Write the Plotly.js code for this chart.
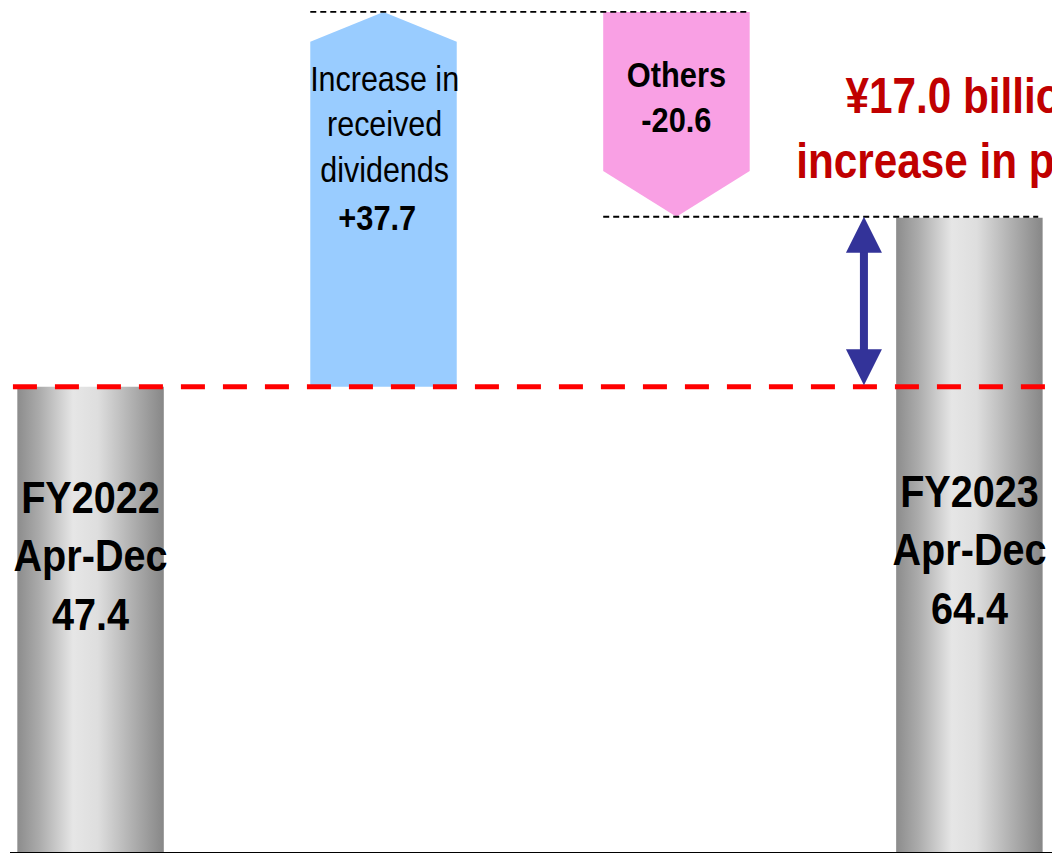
<!DOCTYPE html>
<html>
<head>
<meta charset="utf-8">
<script src="https://cdn.plot.ly/plotly-3.0.1.min.js"></script>
<style>
html,body{margin:0;padding:0;overflow:hidden;background:#fff;}
#chart{width:1052px;height:853px;}
</style>
</head>
<body>
<div id="chart"></div>
<script>
// ---- data ----
const categories = ['FY2022 Apr-Dec', 'Increase in received dividends', 'Others', 'FY2023 Apr-Dec'];
const values = [47.4, 37.7, -20.6, 64.4];
const barLabels = ['FY2022<br>Apr-Dec<br>47.4', 'Increase in<br>received<br>dividends', 'Others<br>-20.6', 'FY2023<br>Apr-Dec<br>64.4'];
const deltaLabel = '+37.7';
const increaseText = '¥17.0 billion<br>increase in profit';

// ---- derived running totals ----
const start = values[0];
const afterDiv = start + values[1];          // 85.1
const afterOthers = afterDiv + values[2];   // 64.5
const endVal = values[3];

const FONT = "'Liberation Sans',Arial,sans-serif";
const hw = 0.25;        // half bar width (category units)
const headUp = 3.0;     // arrow head heights (value units)
const headDown = 4.6;

const grayScale = [[0,'#8c8c8c'],[0.15,'#ababab'],[0.38,'#e6e6e6'],[0.55,'#dedede'],[0.8,'#adadad'],[1,'#878787']];

function grayBar(i, v) {
  return {
    type: 'scatter', mode: 'lines',
    x: [i-hw, i-hw, i+hw, i+hw, i-hw],
    y: [0, v, v, 0, 0],
    fill: 'toself', line: {width: 0}, hoverinfo: 'skip', showlegend: false,
    fillgradient: {type: 'horizontal', start: i-hw, stop: i+hw, colorscale: grayScale}
  };
}

const traces = [
  grayBar(0, start),
  {
    type: 'scatter', mode: 'lines',
    x: [1-hw, 1-hw, 1, 1+hw, 1+hw, 1-hw],
    y: [start, afterDiv-headUp, afterDiv, afterDiv-headUp, start, start],
    fill: 'toself', fillcolor: '#99CCFF', line: {width: 0}, hoverinfo: 'skip', showlegend: false
  },
  {
    type: 'scatter', mode: 'lines',
    x: [2-hw, 2-hw, 2, 2+hw, 2+hw, 2-hw],
    y: [afterDiv, afterOthers+headDown, afterOthers, afterOthers+headDown, afterDiv, afterDiv],
    fill: 'toself', fillcolor: '#F9A0E4', line: {width: 0}, hoverinfo: 'skip', showlegend: false
  },
  grayBar(3, endVal)
];

const xArrow = 3 - 0.36;

const shapes = [
  {type:'line', xref:'x', yref:'y', x0:1-hw, x1:2+hw, y0:afterDiv, y1:afterDiv, line:{color:'#000', width:1.8, dash:'6px,4px'}},
  {type:'line', xref:'x', yref:'y', x0:2-hw, x1:3+hw-0.015, y0:afterOthers, y1:afterOthers, line:{color:'#000', width:1.8, dash:'6px,4px'}},
  {type:'line', xref:'x', yref:'y', x0:0-hw-0.015, x1:3.3, y0:start, y1:start, line:{color:'#FF0000', width:5, dash:'24px,18px'}}
];

// horizontal condensing per annotation (Arial Narrow look)
const squeeze = [0.88, 0.88, 0.87, 0.88, 0.88, 0.845, 1];

const annotations = [
  {x:0, y:30.4, xref:'x', yref:'y', text:'<b>'+barLabels[0]+'</b>', showarrow:false, font:{family:FONT, size:45, color:'#000'}},
  {x:3, y:31.0, xref:'x', yref:'y', text:'<b>'+barLabels[3]+'</b>', showarrow:false, font:{family:FONT, size:45, color:'#000'}},
  {x:1.005, y:73.8, xref:'x', yref:'y', text:barLabels[1], showarrow:false, font:{family:FONT, size:35, color:'#000'}},
  {x:0.98, y:64.4, xref:'x', yref:'y', text:'<b>'+deltaLabel+'</b>', showarrow:false, font:{family:FONT, size:35, color:'#000'}},
  {x:2.0, y:76.5, xref:'x', yref:'y', text:'<b>'+barLabels[2]+'</b>', showarrow:false, font:{family:FONT, size:35, color:'#000'}},
  {x:2.99, y:73.4, xref:'x', yref:'y', text:'<b>'+increaseText+'</b>', showarrow:false, align:'center', font:{family:FONT, size:50, color:'#C00000'}},
  {x:xArrow, y:afterOthers, ax:xArrow, ay:start, xref:'x', yref:'y', axref:'x', ayref:'y', text:'', showarrow:true,
   arrowside:'end+start', arrowhead:2, startarrowhead:2, arrowwidth:8, arrowsize:0.9, startarrowsize:0.9, arrowcolor:'#333399'}
];

const layout = {
  width: 1052, height: 853,
  margin: {l:10, r:0, t:0, b:1, pad:0},
  paper_bgcolor:'#ffffff', plot_bgcolor:'#ffffff',
  showlegend:false,
  xaxis: {range:[-0.275, 3.282], showgrid:false, zeroline:false, showticklabels:false, ticks:'', showline:true, linecolor:'#000', linewidth:2, fixedrange:true},
  yaxis: {range:[0.6, 86.3], showgrid:false, zeroline:false, showticklabels:false, ticks:'', showline:false, fixedrange:true},
  shapes: shapes,
  annotations: annotations
};

Plotly.newPlot('chart', traces, layout, {staticPlot:true, displayModeBar:false}).then(function(gd){
  gd.querySelectorAll('g.annotation').forEach(function(g){
    const idx = +g.getAttribute('data-index');
    const s = squeeze[idx] || 1;
    const t = g.querySelector('text.annotation-text');
    if (!t || s === 1) return;
    const bb = t.getBBox();
    const cx = bb.x + bb.width/2;
    t.setAttribute('transform', 'translate(' + cx + ',0) scale(' + s + ',1) translate(' + (-cx) + ',0)');
  });
});
</script>
</body>
</html>
